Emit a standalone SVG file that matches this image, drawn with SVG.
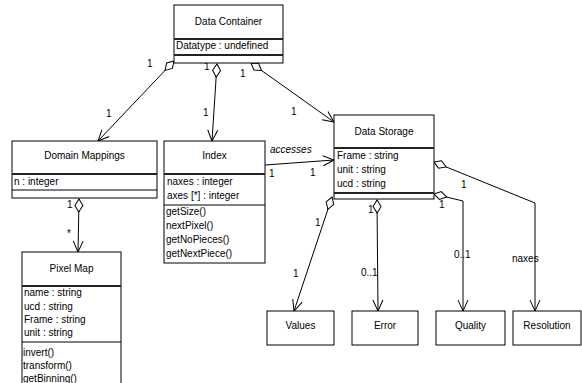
<svg xmlns="http://www.w3.org/2000/svg" width="582" height="383" viewBox="0 0 582 383">
<style>
.box{fill:#fff;stroke:#000;stroke-width:1}
.sep{stroke:#222;stroke-width:2}
.ln{stroke:#000;stroke-width:1}
text{font-family:"Liberation Sans",Arial,sans-serif;font-size:10px;fill:#000}
.t{text-anchor:middle}
.c{fill:none;stroke:#000;stroke-width:1;marker-start:url(#dia);marker-end:url(#arr)}
.a{fill:none;stroke:#000;stroke-width:1;marker-end:url(#arr)}
.it{font-style:italic}
</style>
<defs>
<marker id="arr" markerUnits="userSpaceOnUse" markerWidth="14" markerHeight="12" refX="11" refY="5" orient="auto" overflow="visible">
<path d="M0,0 L11,5 L0,10" fill="none" stroke="#000" stroke-width="1"/>
</marker>
<marker id="dia" markerUnits="userSpaceOnUse" markerWidth="14" markerHeight="10" refX="0" refY="4" orient="auto" overflow="visible">
<path d="M0,4 L6.5,0 L13,4 L6.5,8 Z" fill="#fff" stroke="#000" stroke-width="1"/>
</marker>
</defs>

<g id="connectors">
<path class="c" d="M174,61 L98,141"/>
<path class="c" d="M217,64 L212,141"/>
<path class="c" d="M251,63 L334,122"/>
<path class="a" d="M265,165 L334,160"/>
<path class="c" d="M79,199 L78,252"/>
<path class="c" d="M332,197 L294,311"/>
<path class="c" d="M377,200 L378,311"/>
<path class="c" d="M434,194 L463,201 L463,311"/>
<path class="c" d="M434,162 L535,203 L535,311"/>
<text x="147" y="67">1</text>
<text x="106" y="117">1</text>
<text x="204" y="70">1</text>
<text x="203" y="116">1</text>
<text x="240" y="77">1</text>
<text x="291" y="115">1</text>
<text class="it" x="270" y="153">accesses</text>
<text x="269" y="177">1</text>
<text x="310" y="176">1</text>
<text x="67" y="208">1</text>
<text x="67" y="237">*</text>
<text x="315" y="226">1</text>
<text x="293" y="277">1</text>
<text x="368" y="213">1</text>
<text x="361" y="276">0..1</text>
<text x="439" y="208">1</text>
<text x="454" y="258">0..1</text>
<text x="461" y="188">1</text>
<text x="512" y="262">naxes</text>
</g>

<g id="data-container">
<rect class="box" x="174" y="5" width="109" height="58"/>
<line class="sep" x1="174" y1="39" x2="283" y2="39"/>
<line class="sep" x1="174" y1="55" x2="283" y2="55"/>
<text class="t" x="228.5" y="25">Data Container</text>
<text x="176" y="49">Datatype : undefined</text>
</g>

<g id="domain-mappings">
<rect class="box" x="12" y="141" width="145" height="57"/>
<line class="sep" x1="12" y1="174" x2="157" y2="174"/>
<line class="ln" x1="12" y1="190" x2="157" y2="190"/>
<text class="t" x="84.5" y="159">Domain Mappings</text>
<text x="14" y="185">n : integer</text>
</g>

<g id="index">
<rect class="box" x="164" y="141" width="101" height="122"/>
<line class="sep" x1="164" y1="174" x2="265" y2="174"/>
<line class="ln" x1="164" y1="205" x2="265" y2="205"/>
<text class="t" x="214.5" y="159">Index</text>
<text x="167" y="185">naxes : integer</text>
<text x="167" y="199">axes [*] : integer</text>
<text x="166" y="215">getSize()</text>
<text x="166" y="229">nextPixel()</text>
<text x="166" y="243">getNoPieces()</text>
<text x="166" y="257">getNextPiece()</text>
</g>

<g id="data-storage">
<rect class="box" x="334" y="115" width="100" height="84"/>
<line class="sep" x1="334" y1="148" x2="434" y2="148"/>
<line class="sep" x1="334" y1="193" x2="434" y2="193"/>
<text class="t" x="384" y="135">Data Storage</text>
<text x="337" y="159">Frame : string</text>
<text x="337" y="173">unit : string</text>
<text x="337" y="187">ucd : string</text>
</g>

<g id="pixel-map">
<rect class="box" x="22" y="252" width="99" height="140"/>
<line class="sep" x1="22" y1="286" x2="121" y2="286"/>
<line class="ln" x1="22" y1="342" x2="121" y2="342"/>
<text class="t" x="71.5" y="272">Pixel Map</text>
<text x="24" y="296">name : string</text>
<text x="24" y="310">ucd : string</text>
<text x="24" y="323">Frame : string</text>
<text x="24" y="336">unit : string</text>
<text x="23" y="356">invert()</text>
<text x="23" y="369">transform()</text>
<text x="23" y="382">getBinning()</text>
</g>

<g id="values">
<rect class="box" x="267" y="311" width="67" height="34"/>
<text class="t" x="300.5" y="329">Values</text>
</g>
<g id="error">
<rect class="box" x="352" y="311" width="66" height="34"/>
<text class="t" x="385" y="329">Error</text>
</g>
<g id="quality">
<rect class="box" x="436" y="311" width="69" height="34"/>
<text class="t" x="470.5" y="329">Quality</text>
</g>
<g id="resolution">
<rect class="box" x="513" y="311" width="68" height="34"/>
<text class="t" x="547" y="329">Resolution</text>
</g>
</svg>
